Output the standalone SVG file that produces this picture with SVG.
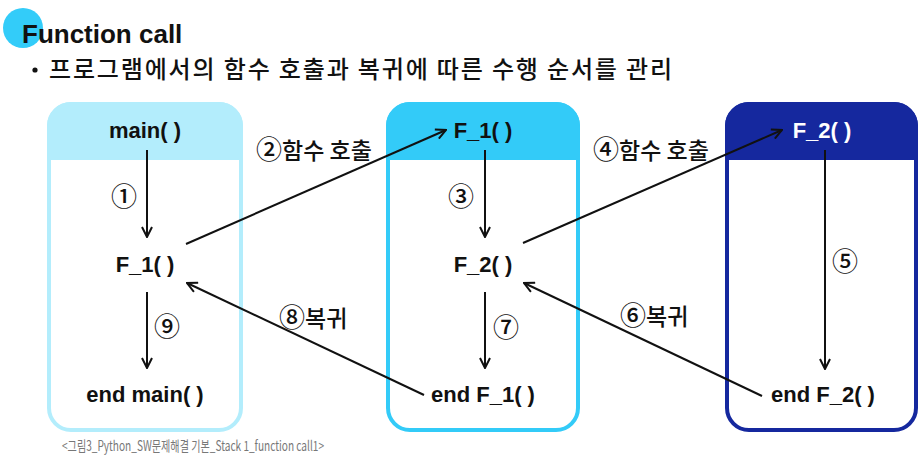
<svg xmlns="http://www.w3.org/2000/svg" width="924" height="456" viewBox="0 0 924 456">
<style>
.lbl{font-family:"Liberation Sans","Noto Sans",sans-serif;font-weight:bold;font-size:22px;fill:#111;text-anchor:middle}
.kr{font-family:"Noto Sans CJK KR","Noto Sans",sans-serif;font-size:23px;font-weight:500;fill:#111}
.num{font-family:"Noto Sans CJK KR","Noto Sans",sans-serif;font-size:26px;font-weight:500;fill:#111;text-anchor:middle}
.cd{font-size:26px;font-weight:500}
.box{fill:#fff;stroke-width:4}
.conn line{stroke:#111;stroke-width:2}
</style>
<defs>
<marker id="ah" viewBox="0 0 12 12" refX="11" refY="6" markerWidth="12" markerHeight="12" markerUnits="userSpaceOnUse" orient="auto">
<path d="M1,1 L11,6 L1,11" fill="none" stroke="#111" stroke-width="2"/>
</marker>
</defs>
<rect width="924" height="456" fill="#fff"/>
<g id="title">
<circle cx="23" cy="28" r="20" fill="#33ccf9"/>
<text x="22" y="43" font-family="Liberation Sans, sans-serif" font-weight="bold" font-size="26" fill="#111">Function call</text>
<circle cx="35" cy="70" r="2.6" fill="#111"/>
<text x="49" y="78" class="kr" font-size="24" style="font-size:24px" textLength="623" lengthAdjust="spacing">프로그램에서의 함수 호출과 복귀에 따른 수행 순서를 관리</text>
</g>
<g id="box-main">
<rect class="box" x="49" y="104" width="192" height="326" rx="22" stroke="#b3edfc"/>
<path d="M47,160 V126 A24,24 0 0 1 71,102 H219 A24,24 0 0 1 243,126 V160 Z" fill="#b3edfc"/>
<text class="lbl" x="145" y="138">main( )</text>
<text class="lbl" x="145" y="272">F_1( )</text>
<text class="lbl" x="145" y="402">end main( )</text>
</g>
<g id="box-f1">
<rect class="box" x="388" y="104" width="190" height="326" rx="22" stroke="#33cbf8"/>
<path d="M386,160 V126 A24,24 0 0 1 410,102 H556 A24,24 0 0 1 580,126 V160 Z" fill="#33cbf8"/>
<text class="lbl" x="483" y="138">F_1( )</text>
<text class="lbl" x="483" y="272">F_2( )</text>
<text class="lbl" x="483" y="402">end F_1( )</text>
</g>
<g id="box-f2">
<rect class="box" x="727" y="104" width="189" height="326" rx="22" stroke="#15289e"/>
<path d="M725,160 V126 A24,24 0 0 1 749,102 H894 A24,24 0 0 1 918,126 V160 Z" fill="#15289e"/>
<text class="lbl" x="822" y="138" style="fill:#fff">F_2( )</text>
<text class="lbl" x="823" y="402">end F_2( )</text>
</g>
<g id="connectors" class="conn">
<line x1="147" y1="150" x2="147" y2="237" marker-end="url(#ah)"/>
<line x1="147" y1="292" x2="147" y2="368" marker-end="url(#ah)"/>
<line x1="485" y1="150" x2="485" y2="237" marker-end="url(#ah)"/>
<line x1="485" y1="292" x2="485" y2="368" marker-end="url(#ah)"/>
<line x1="825" y1="150" x2="825" y2="369" marker-end="url(#ah)"/>
<line x1="186" y1="244" x2="446" y2="130" marker-end="url(#ah)"/>
<line x1="523" y1="243" x2="782" y2="130" marker-end="url(#ah)"/>
<line x1="424" y1="395" x2="187" y2="283" marker-end="url(#ah)"/>
<line x1="762" y1="396" x2="524" y2="283" marker-end="url(#ah)"/>
</g>
<g id="labels">
<text class="num" x="124" y="206">①</text>
<text class="num" x="167" y="336">⑨</text>
<text class="num" x="461" y="206">③</text>
<text class="num" x="506" y="337">⑦</text>
<text class="num" x="845" y="271">⑤</text>
<text class="kr" x="256" y="159"><tspan class="cd">②</tspan><tspan>함수 호출</tspan></text>
<text class="kr" x="593" y="159"><tspan class="cd">④</tspan><tspan>함수 호출</tspan></text>
<text class="kr" x="279" y="327"><tspan class="cd">⑧</tspan><tspan>복귀</tspan></text>
<text class="kr" x="620" y="325"><tspan class="cd">⑥</tspan><tspan>복귀</tspan></text>
</g>
<text x="62" y="451" font-family="Noto Sans CJK KR, sans-serif" font-size="14" fill="#777" textLength="262" lengthAdjust="spacingAndGlyphs">&lt;그림3_Python_SW문제해결 기본_Stack 1_function call1&gt;</text>
</svg>
